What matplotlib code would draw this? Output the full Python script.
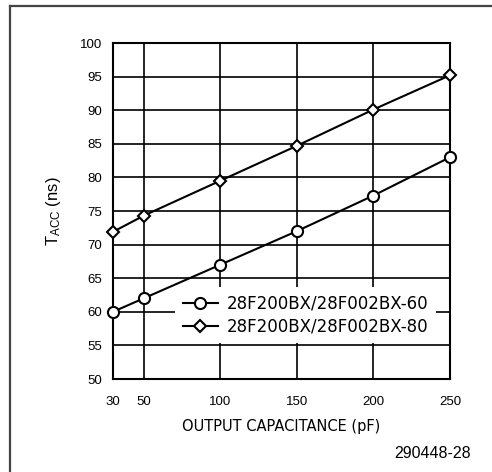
import matplotlib
matplotlib.use("Agg")
import matplotlib.pyplot as plt
from matplotlib.lines import Line2D

plt.rcParams['font.family'] = ['Liberation Sans', 'DejaVu Sans']
plt.rcParams['mathtext.default'] = 'regular'

cap = [30, 50, 100, 150, 200, 250]
t60 = [60.0, 62.0, 67.0, 72.0, 77.3, 83.0]
t80 = [71.9, 74.3, 79.5, 84.7, 90.1, 95.2]
xticks = [30, 50, 100, 150, 200, 250]
yticks = [50, 55, 60, 65, 70, 75, 80, 85, 90, 95, 100]
labels = ["28F200BX/28F002BX-60", "28F200BX/28F002BX-80"]

fig = plt.figure(figsize=(4.92, 4.72), dpi=100)
# outer frame (top & left edges visible)
fig.add_artist(Line2D([9.5/492, 1.0], [1-5.5/472]*2, color='#444444', lw=1.6, transform=fig.transFigure))
fig.add_artist(Line2D([9.5/492]*2, [0.0, 1-5.5/472], color='#444444', lw=1.6, transform=fig.transFigure))

ax = fig.add_axes([113/492, 1-379/472, 337/492, 336/472])
ax.set_xlim(30, 250)
ax.set_ylim(50, 100)
ax.set_xticks(xticks)
ax.set_yticks(yticks)
ax.tick_params(axis='x', length=0, labelsize=9.5, pad=12)
ax.tick_params(axis='y', length=0, labelsize=9.5, pad=8)
for v in [50, 100, 150, 200]:
    ax.axvline(v, color='black', lw=1.2, zorder=1)
for v in yticks[1:-1]:
    ax.axhline(v, color='black', lw=1.2, zorder=1)
for s in ax.spines.values():
    s.set_linewidth(1.5)

ax.plot(cap, t60, color='black', lw=1.5, marker='o', ms=8, mfc='white', mew=1.5, label=labels[0], zorder=3, clip_on=False)
ax.plot(cap, t80, color='black', lw=1.5, marker='D', ms=6.5, mfc='white', mew=1.5, label=labels[1], zorder=3, clip_on=False)

leg = ax.legend(loc='center left', bbox_to_anchor=(62/337, (379-315)/336), frameon=True,
                fancybox=False, edgecolor='none', facecolor='white', framealpha=1,
                prop={'family': 'DejaVu Sans', 'size': 12}, handlelength=2.1,
                handletextpad=0.55, labelspacing=0.28, borderpad=0.45, borderaxespad=0)
leg.set_zorder(1.5)

ax.set_xlabel("OUTPUT CAPACITANCE (pF)", family='DejaVu Sans', fontsize=10.5, labelpad=8)
ax.set_ylabel("T$_{ACC}$ (ns)", fontsize=12, labelpad=12)
fig.text(471/492, 1-453/472, "290448-28", ha='right', va='center', fontsize=11.5)

fig.savefig("out.png", dpi=100)
